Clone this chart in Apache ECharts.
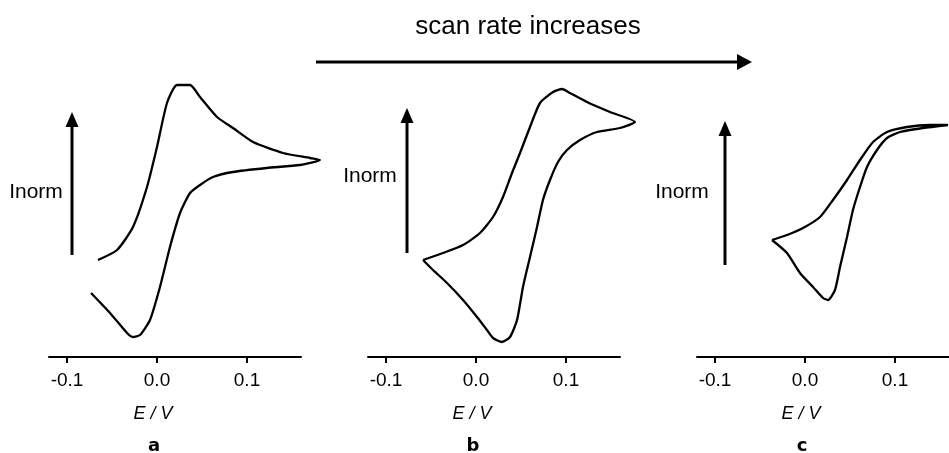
<!DOCTYPE html>
<html><head><meta charset="utf-8">
<script src="https://cdn.jsdelivr.net/npm/echarts@6/dist/echarts.min.js"></script>
<style>html,body{margin:0;padding:0;background:#fff}#c{width:949px;height:453px}</style>
</head><body><div id="c"></div>
<script>
// ---- data (E in V, normalized current in arbitrary units) ----
const panelLabels = ['a', 'b', 'c'];
const tickValues = [-0.1, 0.0, 0.1];
const topTitle = 'scan rate increases';
const yLabel = 'Inorm';
const xLabel = 'E / V';

// panel a (slow scan)
const aE = [-0.0656,-0.0444,-0.0267,-0.0111,0.0,0.0111,0.0222,0.0367,0.0478,0.0667,0.0844,0.1067,0.14,0.17,0.181,
            0.159,0.122,0.0844,0.0622,0.0478,0.0367,0.0256,0.0144,0.0033,-0.0078,-0.0189,-0.0267,-0.0333,-0.0522,-0.0733];
const aI = [0.97,1.07,1.30,1.70,2.10,2.54,2.72,2.72,2.60,2.40,2.29,2.15,2.04,1.99,1.97,
            1.92,1.89,1.85,1.80,1.72,1.64,1.44,1.10,0.70,0.37,0.22,0.20,0.24,0.44,0.64];
// panel b (medium scan)
const bE = [-0.0589,-0.0367,-0.0144,0.0044,0.0189,0.03,0.04,0.0489,0.06,0.0711,0.0856,0.0956,0.1044,0.1233,0.1489,0.1767,
            0.16,0.1344,0.1156,0.1011,0.0911,0.0822,0.0744,0.0678,0.06,0.0522,0.0456,0.0378,0.0289,0.0189,0.0122,0.0011,-0.0144,-0.0322,-0.0478,-0.0589];
const bI = [0.97,1.04,1.12,1.24,1.40,1.60,1.84,2.04,2.30,2.54,2.65,2.68,2.64,2.55,2.45,2.35,
            2.29,2.25,2.17,2.07,1.95,1.77,1.57,1.30,1.00,0.70,0.37,0.20,0.15,0.19,0.27,0.40,0.57,0.74,0.87,0.97];
// panel c (fast scan)
const cE = [-0.0367,-0.02,-0.0022,0.0167,0.0311,0.0467,0.0611,0.0756,0.0911,0.1133,0.1389,0.1589,
            0.1311,0.1056,0.0911,0.08,0.0689,0.0611,0.0533,0.0467,0.0389,0.0333,0.0256,0.02,0.0089,-0.0056,-0.02,-0.0367];
const cI = [1.17,1.22,1.29,1.40,1.57,1.77,1.97,2.15,2.25,2.30,2.32,2.32,
            2.29,2.25,2.19,2.07,1.90,1.70,1.47,1.20,0.90,0.67,0.57,0.59,0.70,0.84,1.04,1.17];

const curves = [[aE, aI], [bE, bI], [cE, cI]];

// ---- layout ----
const FONT = '"Liberation Sans", Arial, sans-serif';
const gridLefts = [49, 368, 697];
const pxPerV = 900;
const xMin = -0.12, axisMax = 0.16, dataMax = 0.20;
const gridTop = 57, gridH = 300;
const zeroX = gridLefts.map(l => l - xMin * pxPerV);
const arrows = [{x: 72, top: 112, bottom: 255}, {x: 407, top: 108, bottom: 253}, {x: 725, top: 121, bottom: 265}];
const inormPos = [{x: 36, y: 192}, {x: 370, y: 176}, {x: 682, y: 192}];

const chart = echarts.init(document.getElementById('c'), null, {renderer: 'canvas'});

const grids = [], xAxes = [], yAxes = [], series = [];
curves.forEach((cv, i) => {
  // axis grid (visible axis line, ticks, labels)
  grids.push({left: gridLefts[i], top: gridTop, width: (axisMax - xMin) * pxPerV, height: gridH, containLabel: false, outerBoundsMode: 'none'});
  xAxes.push({
    type: 'value', gridIndex: 2 * i, min: xMin, max: axisMax,
    axisLine: {show: true, onZero: false, lineStyle: {color: '#000', width: 2}},
    axisTick: {show: true, length: 6, inside: false, lineStyle: {color: '#000', width: 2}, customValues: tickValues},
    axisLabel: {show: true, margin: 14, color: '#000', fontSize: 19, fontFamily: FONT,
      customValues: tickValues, formatter: v => v.toFixed(1)},
    splitLine: {show: false}
  });
  yAxes.push({type: 'value', gridIndex: 2 * i, min: 0, max: 3, show: false, splitLine: {show: false}});
  // data grid (same scale, wider so the curve is not clipped)
  grids.push({left: gridLefts[i], top: gridTop, width: (dataMax - xMin) * pxPerV, height: gridH, containLabel: false, outerBoundsMode: 'none'});
  xAxes.push({type: 'value', gridIndex: 2 * i + 1, min: xMin, max: dataMax, show: false, splitLine: {show: false}});
  yAxes.push({type: 'value', gridIndex: 2 * i + 1, min: 0, max: 3, show: false, splitLine: {show: false}});
  series.push({
    type: 'line', xAxisIndex: 2 * i + 1, yAxisIndex: 2 * i + 1, clip: false,
    data: cv[0].map((e, k) => [e, cv[1][k]]),
    showSymbol: false, symbol: 'none', smooth: 0.2,
    lineStyle: {color: '#000', width: 2.3}
  });
});

const graphic = [];
graphic.push({type: 'text', x: 528, y: 27, style: {text: topTitle, fill: '#000', font: '26px ' + FONT, align: 'center', verticalAlign: 'middle'}});
graphic.push({type: 'line', shape: {x1: 316, y1: 62, x2: 740, y2: 62}, style: {stroke: '#000', lineWidth: 3}});
graphic.push({type: 'polygon', shape: {points: [[737, 54], [752, 62], [737, 70]]}, style: {fill: '#000'}});

arrows.forEach((a, i) => {
  graphic.push({type: 'line', shape: {x1: a.x, y1: a.bottom, x2: a.x, y2: a.top + 12}, style: {stroke: '#000', lineWidth: 3}});
  graphic.push({type: 'polygon', shape: {points: [[a.x - 6.5, a.top + 15], [a.x, a.top], [a.x + 6.5, a.top + 15]]}, style: {fill: '#000'}});
  graphic.push({type: 'text', x: inormPos[i].x, y: inormPos[i].y, style: {text: yLabel, fill: '#000', font: '21px ' + FONT, align: 'center', verticalAlign: 'middle'}});
  graphic.push({type: 'text', x: zeroX[i] - 4, y: 414, style: {text: xLabel, fill: '#000', font: 'italic 18px ' + FONT, align: 'center', verticalAlign: 'middle'}});
  graphic.push({type: 'text', x: zeroX[i] - 3, y: 446, style: {text: panelLabels[i], fill: '#000', font: 'bold 18px "DejaVu Sans", sans-serif', align: 'center', verticalAlign: 'middle'}});
});

chart.setOption({
  animation: false,
  backgroundColor: '#fff',
  grid: grids, xAxis: xAxes, yAxis: yAxes, series: series,
  graphic: graphic
});
</script></body></html>
